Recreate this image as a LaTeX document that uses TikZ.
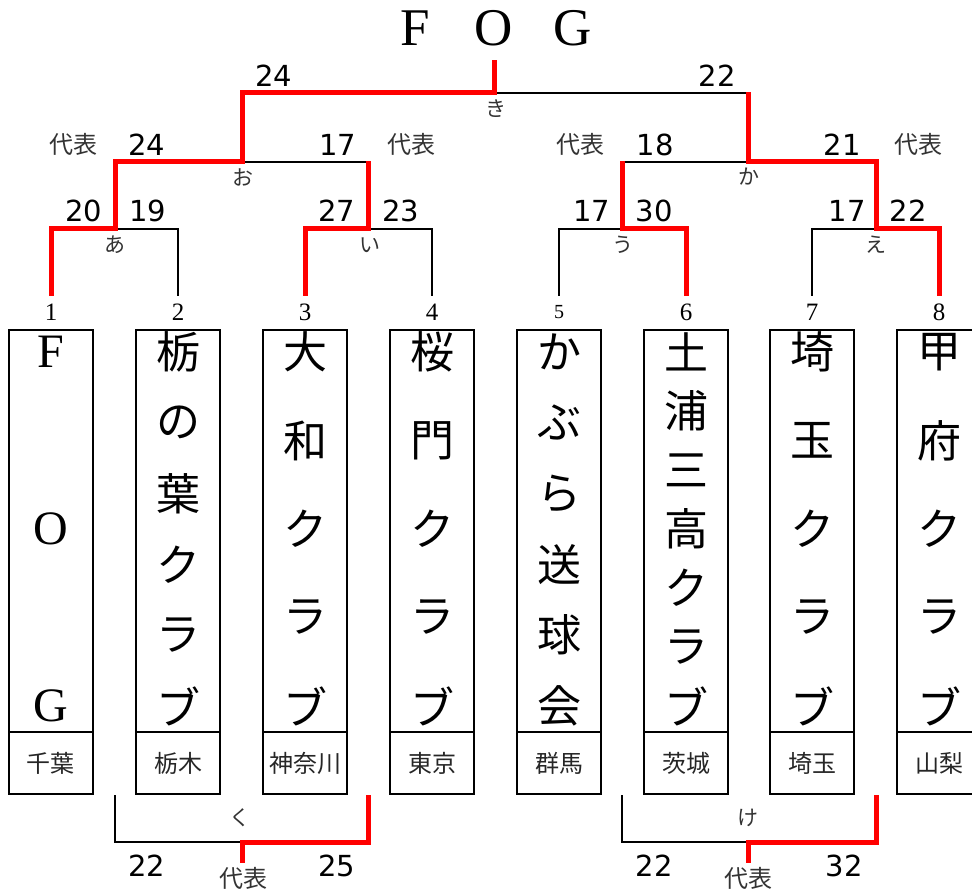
\documentclass[tikz,border=0pt]{standalone}
\usepackage{fontspec}
\setmainfont{Liberation Serif}
\newfontfamily\jp{Noto Sans CJK JP}
\newfontfamily\numfont{DejaVu Sans}
\usetikzlibrary{calc}

\tikzset{
  bracket/.style={line width=2pt},
  win/.style={line width=5pt, red},
  score/.style={font=\numfont\fontsize{29}{29}\selectfont},
  kana/.style={font=\jp\fontsize{21}{21}\selectfont, text=black!80},
  rep/.style={font=\jp\fontsize{24}{24}\selectfont, text=black!80},
  teambox/.style={draw, line width=2pt, minimum width=84pt, minimum height=402pt, inner sep=0pt},
  prefbox/.style={draw, line width=2pt, minimum width=84pt, minimum height=62pt, inner sep=0pt,
    font=\jp\fontsize{24}{24}\selectfont, text=black!85},
  namech/.style={font=\jp\fontsize{44}{44}\selectfont, inner sep=0pt},
}

% vertical team name: box, number of chars, chars
\newcommand\teamname[3]{%
  \foreach \ch [count=\k] in {#3}
    \node[namech] (#1-\k) at ($(#1.north)+(0,{23+(\k-1)*354/(#2-1)})$) {\ch};}

\begin{document}
\begin{tikzpicture}[x=1pt,y=-1pt]
\useasboundingbox (0,0) rectangle (972,893);

\node (title) at (494,28) {\fontsize{53}{53}\selectfont
  \makebox[79pt]{F}\makebox[79pt]{O}\makebox[79pt]{G}};
\coordinate (top) at (494,60);

% seeds, boxes
\foreach \x/\fs [count=\i] in {51/25,178/25,305/25,432/25,559/20,686/25,812/25,939/25} {
  \node[font=\fontsize{\fs}{\fs}\selectfont] (s\i) at (\x,312) {\i};
  \coordinate (t\i) at (\x,296);
}
\foreach \x/\pref [count=\i] in {51/千葉,178/栃木,305/神奈川,432/東京,559/群馬,686/茨城,812/埼玉,939/山梨} {
  \node[teambox] (b\i) at (\x,531) {};
  \node[prefbox] (p\i) at (\x,763) {\pref};
}
\foreach \ch [count=\k] in {F,O,G}
  \node[namech, font=\fontsize{48}{48}\selectfont] (b1-\k) at ($(b1.north)+(0,{23+(\k-1)*177})$) {\ch};
\teamname{b2}{6}{栃,の,葉,ク,ラ,ブ}
\teamname{b3}{5}{大,和,ク,ラ,ブ}
\teamname{b4}{5}{桜,門,ク,ラ,ブ}
\teamname{b5}{6}{か,ぶ,ら,送,球,会}
\teamname{b6}{7}{土,浦,三,高,ク,ラ,ブ}
\teamname{b7}{5}{埼,玉,ク,ラ,ブ}
\teamname{b8}{5}{甲,府,ク,ラ,ブ}

% junctions
\coordinate (ja) at (115,229);
\coordinate (ji) at (368,229);
\coordinate (ju) at (622,229);
\coordinate (je) at (876,229);
\coordinate (jo) at (242,162);
\coordinate (jka) at (748,162);
\coordinate (jki) at (494,93);

\draw[bracket] (t1) |- (ja) -| (t2);
\draw[bracket] (t3) |- (ji) -| (t4);
\draw[bracket] (t5) |- (ju) -| (t6);
\draw[bracket] (t7) |- (je) -| (t8);
\draw[bracket] (ja) |- (jo) -| (ji);
\draw[bracket] (ju) |- (jka) -| (je);
\draw[bracket] (jo) |- (jki) -| (jka);

\draw[win] (t1) |- (ja) |- (jo) |- (jki) -- (top);
\draw[win] (t3) |- (ji) -- ($(ji |- jo)+(0,-1)$);
\draw[win] (t6) |- (ju) -- ($(ju |- jka)+(0,-1)$);
\draw[win] (t8) |- (je) |- (jka) -- ($(jka |- jki)+(0,-1)$);

% bottom brackets
\coordinate (kl) at (115,795);
\coordinate (kr) at (368,795);
\coordinate (jku) at (242,842);
\coordinate (gl) at (622,795);
\coordinate (gr) at (876,795);
\coordinate (jke) at (748,842);
\node[rep] (dku) at (243,878) {代表};
\node[rep] (dke) at (748,878) {代表};
\draw[bracket] (kl) |- (jku) -| (kr);
\draw[bracket] (gl) |- (jke) -| (gr);
\draw[win] (kr) |- (jku) -- (jku |- dku.north);
\draw[win] (gr) |- (jke) -- (jke |- dke.north);

% scores
\foreach \x/\y/\t [count=\i] in {274/76/24, 717/76/22,
    147/145/24, 338/145/17, 655/145/18, 842/145/21,
    84/211/20, 148/211/19, 337/211/27, 401/211/23,
    592/211/17, 654/211/30, 847/211/17, 908/211/22,
    147/866/22, 337/866/25, 654/866/22, 844/866/32}
  \node[score] (sc\i) at (\x,\y) {\t};

\node[rep] (d1) at (73,144) {代表};
\node[rep] (d2) at (411,144) {代表};
\node[rep] (d3) at (580,144) {代表};
\node[rep] (d4) at (918,144) {代表};

\node[kana] (lki) at (496,109) {き};
\node[kana] (lo) at (243,177) {お};
\node[kana] (lka) at (749,177) {か};
\node[kana] (la) at (115,245) {あ};
\node[kana] (li) at (370,245) {い};
\node[kana] (lu) at (623,245) {う};
\node[kana] (le) at (876,245) {え};
\node[kana] (lku) at (240,818) {く};
\node[kana] (lke) at (748,818) {け};
\end{tikzpicture}
\end{document}
